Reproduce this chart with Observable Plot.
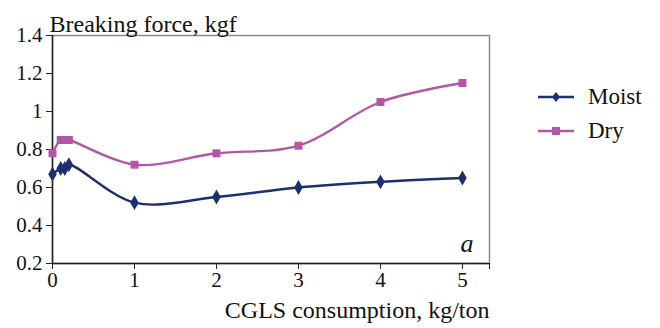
<!DOCTYPE html>
<html>
<head>
<meta charset="utf-8">
<script src="https://cdn.jsdelivr.net/npm/d3@7"></script>
<script src="https://cdn.jsdelivr.net/npm/@observablehq/plot@0.6"></script>
<style>
  body { margin: 0; background: #fff; }
  #wrap { position: relative; width: 660px; height: 328px; font-family: 'Liberation Serif', 'DejaVu Serif', 'Times New Roman', serif; }
  #legend { position: absolute; left: 538px; top: 80px; font-size: 23px; color: #111; }
  .item { display: flex; align-items: center; height: 34px; }
  .item svg { margin-right: 14px; }
  svg text { font-family: 'Liberation Serif', 'DejaVu Serif', 'Times New Roman', serif; }
</style>
</head>
<body>
<div id="wrap"><div id="chart"></div><div id="legend"></div></div>
<script>
const consumption = [0, 0.1, 0.15, 0.2, 1, 2, 3, 4, 5];
const moist = [0.67, 0.70, 0.70, 0.72, 0.52, 0.55, 0.60, 0.63, 0.65];
const dry = [0.78, 0.85, 0.85, 0.85, 0.72, 0.78, 0.82, 1.05, 1.15];
const seriesNames = ["Moist", "Dry"];
const seriesColors = ["#1c2f6f", "#b257a5"];
const seriesSymbols = ["diamond", "square"];
const xTicks = [0, 1, 2, 3, 4, 5];
const yTicks = [0.2, 0.4, 0.6, 0.8, 1, 1.2, 1.4];

const rows = [];
consumption.forEach((c, i) => {
  rows.push({series: "Moist", x: c, y: moist[i]});
  rows.push({series: "Dry", x: c, y: dry[i]});
});

const serif = "'Liberation Serif', 'DejaVu Serif', 'Times New Roman', serif";
const xMax = 5.33;
const plot = Plot.plot({
  width: 500,
  height: 328,
  marginLeft: 52,
  marginRight: 11,
  marginTop: 35,
  marginBottom: 65,
  style: {fontFamily: serif, fontSize: "21px", color: "#111", background: "#fff"},
  x: {domain: [0, xMax]},
  y: {domain: [0.2, 1.4]},
  color: {domain: seriesNames, range: seriesColors},
  symbol: {domain: seriesNames, range: seriesSymbols},
  marks: [
    Plot.frame({stroke: "#8a8a8a", strokeWidth: 1.5}),
    Plot.axisY({ticks: yTicks, tickSize: 6, tickPadding: 4, label: null, tickFormat: d => d3.format("")(d), stroke: "#222"}),
    Plot.axisX({ticks: [...xTicks, xMax], tickSize: 6, tickPadding: 3, label: null, tickFormat: d => xTicks.includes(d) ? String(d) : "", stroke: "#222"}),
    Plot.ruleX([0], {stroke: "#222", strokeWidth: 1.5}),
    Plot.ruleY([0.2], {stroke: "#222", strokeWidth: 1.5}),
    Plot.line(rows, {x: "x", y: "y", z: "series", stroke: "series", strokeWidth: 2.4, curve: "catmull-rom"}),
    Plot.dot(rows, {x: "x", y: "y", fill: "series", symbol: "series", r: 4.5, stroke: "none"}),
    Plot.text(["Breaking force, kgf"], {frameAnchor: "top-left", textAnchor: "start", lineAnchor: "bottom", dx: -3, dy: -4, fontSize: 24, fill: "#111"}),
    Plot.text(["CGLS consumption, kg/ton"], {frameAnchor: "bottom-right", textAnchor: "end", lineAnchor: "bottom", dx: 0, dy: 54, fontSize: 24, fill: "#111"}),
    Plot.text(["a"], {frameAnchor: "bottom-right", textAnchor: "end", lineAnchor: "bottom", dx: -16, dy: -12, fontSize: 26, fontStyle: "italic", fill: "#111"})
  ]
});
document.getElementById("chart").appendChild(plot);

const legend = document.getElementById("legend");
seriesNames.forEach((name, i) => {
  const item = document.createElement("div");
  item.className = "item";
  const sym = seriesSymbols[i] === "diamond"
    ? `<path d="M18,6 L22,11 L18,16 L14,11 Z" fill="${seriesColors[i]}"/>`
    : `<rect x="14" y="7" width="8" height="8" fill="${seriesColors[i]}"/>`;
  item.innerHTML = `<svg width="36" height="22"><line x1="0" x2="36" y1="11" y2="11" stroke="${seriesColors[i]}" stroke-width="2.4"/>${sym}</svg><span>${name}</span>`;
  legend.appendChild(item);
});
</script>
</body>
</html>
